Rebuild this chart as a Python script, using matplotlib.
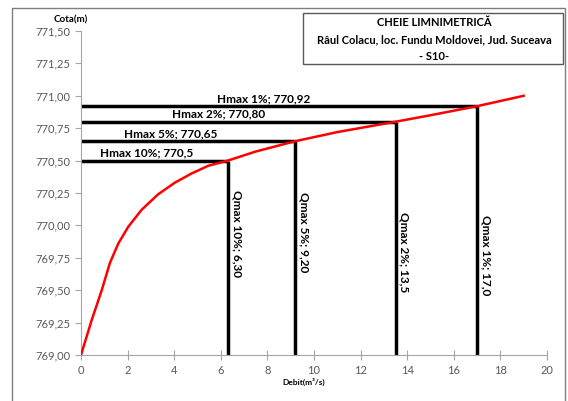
import matplotlib.pyplot as plt
from matplotlib.patches import Rectangle

# rating curve (debit vs cota)
debit = [0, 0.46, 0.89, 1.24, 1.6, 2.03, 2.6, 3.31, 4.03, 4.74, 5.46, 6.3,
         7.5, 9.2, 11.0, 13.5, 15.0, 17.0, 19.0]
cota = [769.00, 769.27, 769.50, 769.71, 769.86, 769.99, 770.12, 770.24, 770.33, 770.40, 770.46, 770.50,
        770.57, 770.65, 770.72, 770.80, 770.85, 770.92, 771.00]

# design values
q_max = [6.30, 9.20, 13.5, 17.0]
h_max = [770.50, 770.65, 770.80, 770.92]
h_labels = ['Hmax 10%; 770,5', 'Hmax 5%; 770,65', 'Hmax 2%; 770,80', 'Hmax 1%; 770,92']
q_labels = ['Qmax 10%; 6,30', 'Qmax 5%; 9,20', 'Qmax 2%; 13,5', 'Qmax 1%; 17,0']
h_label_x = [2.8, 3.85, 5.9, 7.85]
q_label_y = [770.27, 770.26, 770.10, 770.08]

y_ticks = [769.00, 769.25, 769.50, 769.75, 770.00, 770.25, 770.50, 770.75, 771.00, 771.25, 771.50]
x_ticks = [0, 2, 4, 6, 8, 10, 12, 14, 16, 18, 20]

plt.rcParams['font.family'] = ['Lato', 'DejaVu Sans']

fig = plt.figure(figsize=(5.68, 4.01), dpi=100)
ax = fig.add_axes([81 / 568, 1 - 355 / 401, (547 - 81) / 568, (355 - 31) / 401])

# outer frame
fig.patches.append(Rectangle((12 / 568, -0.05), (565 - 12) / 568, 1.05 - 8 / 401,
                             transform=fig.transFigure, fill=False, edgecolor='#7f7f7f', lw=1))

for q, h in zip(q_max, h_max):
    ax.plot([0, q], [h, h], color='black', lw=2.5, solid_capstyle='butt', zorder=2)
    ax.plot([q, q], [769.0, h], color='black', lw=2.5, solid_capstyle='butt', zorder=2)

ax.plot(debit, cota, color='red', lw=1.8, zorder=3)

for x, h, lab in zip(h_label_x, h_max, h_labels):
    ax.text(x, h + 0.015, lab, ha='center', va='bottom', fontsize=8.5, fontweight='bold')

for q, y, lab in zip(q_max, q_label_y, q_labels):
    ax.text(q + 0.15, y, lab, rotation=-90, ha='left', va='top',
            fontsize=8.5, fontweight='bold')

ax.set_xlim(0, 20)
ax.set_ylim(769.0, 771.5)
ax.set_xticks(x_ticks)
ax.set_yticks(y_ticks)
ax.set_xticklabels([str(t) for t in x_ticks])
ax.set_yticklabels([f'{t:.2f}'.replace('.', ',') for t in y_ticks])
ax.tick_params(axis='both', colors='#a6a6a6', labelcolor='#595959', labelsize=8)
ax.tick_params(axis='x', direction='inout', length=7)
ax.tick_params(axis='y', direction='out', length=4)
for s in ['top', 'right']:
    ax.spines[s].set_visible(False)
for s in ['left', 'bottom']:
    ax.spines[s].set_color('#a6a6a6')

fig.text(71 / 568, 1 - 20 / 401, 'Cota(m)', ha='center', va='center', fontsize=7, fontweight='bold')
fig.text(304 / 568, 1 - 382 / 401, 'Debit(m³/s)', ha='center', va='center', fontsize=6, fontweight='bold')

# title box
fig.patches.append(Rectangle((303 / 568, 1 - 64 / 401), (563 - 303) / 568, (64 - 13) / 401,
                             transform=fig.transFigure, fill=True, facecolor='white',
                             edgecolor='#595959', lw=1))
fig.text(434 / 568, 1 - 23 / 401, 'CHEIE LIMNIMETRICĂ', ha='center', va='center', fontsize=8, fontweight='bold')
fig.text(434 / 568, 1 - 40 / 401, 'Râul Colacu, loc. Fundu Moldovei, Jud. Suceava', ha='center', va='center',
         fontsize=8, fontweight='bold')
fig.text(434 / 568, 1 - 56 / 401, '- S10-', ha='center', va='center', fontsize=8, fontweight='bold')

fig.savefig('out.png', dpi=100)
